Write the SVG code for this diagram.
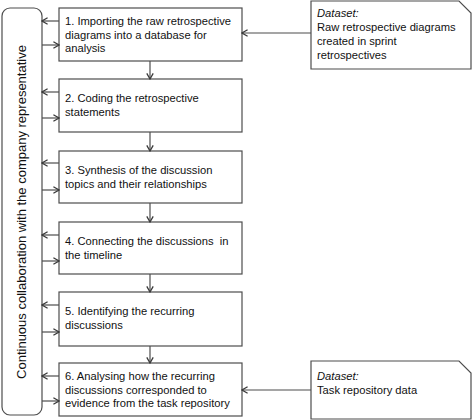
<svg xmlns="http://www.w3.org/2000/svg" width="472" height="420" viewBox="0 0 472 420">
<defs>
<marker id="ah" viewBox="0 0 10 10" refX="9" refY="5" markerWidth="8" markerHeight="8" markerUnits="userSpaceOnUse" orient="auto">
<path d="M2,1 L9,5 L2,9" fill="none" stroke="#3a3a3a" stroke-width="1.6"/>
</marker>
</defs>
<style>
.box{fill:#fff;stroke:#4d4d4d;stroke-width:1.2}
.t{font-family:"Liberation Sans",Arial,sans-serif;font-size:11.2px;fill:#111}
.c{fill:none;stroke:#4d4d4d;stroke-width:1.2;marker-end:url(#ah)}
.side{font-family:"Liberation Sans",Arial,sans-serif;font-size:13px;fill:#111}
</style>
<rect width="472" height="420" fill="#fff"/>
<g id="collab">
<rect class="box" x="2" y="8" width="40" height="407" rx="8"/>
<text class="side" transform="translate(26,212) rotate(-90)" text-anchor="middle">Continuous collaboration with the company representative</text>
</g>
<g id="step1">
<rect class="box" x="59" y="8" width="183" height="53"/>
<text class="t" x="65" y="25">1. Importing the raw retrospective</text>
<text class="t" x="65" y="38.5">diagrams into a database for</text>
<text class="t" x="65" y="52">analysis</text>
</g>
<g id="step2">
<rect class="box" x="59" y="79" width="183" height="53"/>
<text class="t" x="65" y="102">2. Coding the retrospective</text>
<text class="t" x="65" y="116">statements</text>
</g>
<g id="step3">
<rect class="box" x="59" y="151" width="183" height="52"/>
<text class="t" x="65" y="173.5">3. Synthesis of the discussion</text>
<text class="t" x="65" y="187.5">topics and their relationships</text>
</g>
<g id="step4">
<rect class="box" x="59" y="222" width="183" height="52"/>
<text class="t" x="65" y="244.5">4. Connecting the discussions&#160; in</text>
<text class="t" x="65" y="258.5">the timeline</text>
</g>
<g id="step5">
<rect class="box" x="59" y="292" width="183" height="54"/>
<text class="t" x="65" y="315">5. Identifying the recurring</text>
<text class="t" x="65" y="329">discussions</text>
</g>
<g id="step6">
<rect class="box" x="59" y="363" width="183" height="53"/>
<text class="t" x="65" y="380">6. Analysing how the recurring</text>
<text class="t" x="65" y="393.5">discussions corresponded to</text>
<text class="t" x="65" y="407">evidence from the task repository</text>
</g>
<g id="dataset1">
<path class="box" d="M311,1 H459 L471,13 V69 H311 Z"/>
<text class="t" x="317" y="17" font-style="italic">Dataset:</text>
<text class="t" x="317" y="31">Raw retrospective diagrams</text>
<text class="t" x="317" y="45">created in sprint</text>
<text class="t" x="317" y="59">retrospectives</text>
</g>
<g id="dataset2">
<path class="box" d="M311,361 H459 L471,373 V419 H311 Z"/>
<text class="t" x="317" y="380" font-style="italic">Dataset:</text>
<text class="t" x="317" y="394">Task repository data</text>
</g>
<g id="connectors">
<line class="c" x1="150" y1="61" x2="150" y2="79"/>
<line class="c" x1="150" y1="132" x2="150" y2="151"/>
<line class="c" x1="150" y1="203" x2="150" y2="222"/>
<line class="c" x1="150" y1="274" x2="150" y2="292"/>
<line class="c" x1="150" y1="346" x2="150" y2="363"/>
<line class="c" x1="311" y1="33" x2="242" y2="33"/>
<line class="c" x1="311" y1="390" x2="242" y2="390"/>
<line class="c" x1="59" y1="21" x2="42" y2="21"/>
<line class="c" x1="42" y1="45" x2="59" y2="45"/>
<line class="c" x1="59" y1="92" x2="42" y2="92"/>
<line class="c" x1="42" y1="118" x2="59" y2="118"/>
<line class="c" x1="59" y1="163" x2="42" y2="163"/>
<line class="c" x1="42" y1="190" x2="59" y2="190"/>
<line class="c" x1="59" y1="235" x2="42" y2="235"/>
<line class="c" x1="42" y1="261" x2="59" y2="261"/>
<line class="c" x1="59" y1="305" x2="42" y2="305"/>
<line class="c" x1="42" y1="332" x2="59" y2="332"/>
<line class="c" x1="59" y1="376" x2="42" y2="376"/>
<line class="c" x1="42" y1="401" x2="59" y2="401"/>
</g>
</svg>
